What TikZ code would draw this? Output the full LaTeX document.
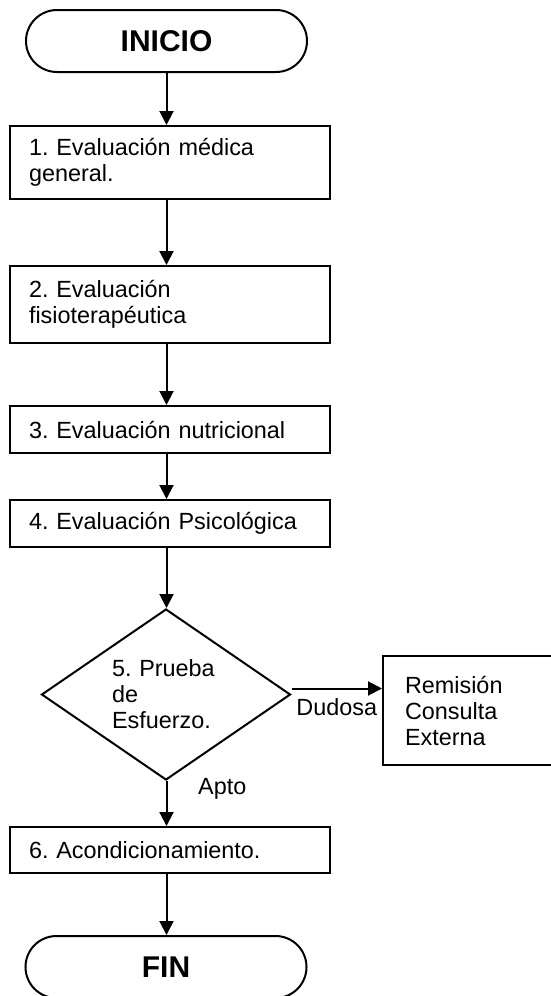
\documentclass[tikz,border=0pt]{standalone}
\usepackage{fontspec}
\setmainfont{Liberation Sans}
\usetikzlibrary{shapes.geometric, arrows.meta}

\begin{document}
\frenchspacing
\begin{tikzpicture}[x=0.5pt, y=-0.5pt, line width=1pt,
        font=\fontsize{11.7}{13}\selectfont,
        terminal/.style={draw, rectangle, rounded corners=15.5pt, minimum width=140.5pt, minimum height=31pt, font=\fontsize{15}{18}\selectfont\bfseries},
        caja/.style={draw, rectangle, text width=140.5pt, inner xsep=9.75pt, align=left},
        decision/.style={draw, diamond, aspect=1.456, minimum width=124.5pt, minimum height=85.5pt, inner sep=0pt, text width=54pt, align=left},
        flecha/.style={-{Triangle[length=7pt, width=7pt]}}]

        % page frame, the right box and FIN run past it
        \useasboundingbox (0,0) rectangle (551,996);
        \clip (0,0) rectangle (551,996);

        % main column
        \node[terminal] (ini) at (166.5,41) {INICIO};
        \node[caja, minimum height=36.5pt] (b1) at (169.5,162.5) {1. Evaluación médica\\general.};
        \node[caja, minimum height=38.5pt] (b2) at (169.5,304.5) {2. Evaluación\\fisioterapéutica};
        \node[caja, minimum height=23.5pt] (b3) at (169.5,429.5) {3. Evaluación nutricional};
        \node[caja, minimum height=23.5pt] (b4) at (169.5,523.5) {4. Evaluación Psicológica};
        \node[decision] (d5) at (166,694.5) {5. Prueba\\de\\Esfuerzo.};
        \node[caja, minimum height=23pt] (b6) at (169.5,850) {6. Acondicionamiento.};
        \node[terminal] (fin) at (166,967) {FIN};

        % side branch
        \node[draw, rectangle, text width=70pt, inner xsep=11pt, minimum height=54.5pt, align=left] (rem) at (475,710.5) {Remisión\\Consulta\\Externa};

        % arrows down the column
        \foreach \a/\b in {ini/b1, b1/b2, b2/b3, b3/b4, b4/d5, b6/fin}
                \draw[flecha] (\a.south -| ini) -- (\b.north -| ini);

        \draw[flecha] (d5.south -| ini) -- (b6.north -| ini) node[pos=.17, right=12pt] {Apto};
        \draw[flecha] ([yshift=3pt]d5.east) -- ([yshift=3pt]d5.east -| rem.west) node[midway, below=1pt] {Dudosa};

\end{tikzpicture}
\end{document}
